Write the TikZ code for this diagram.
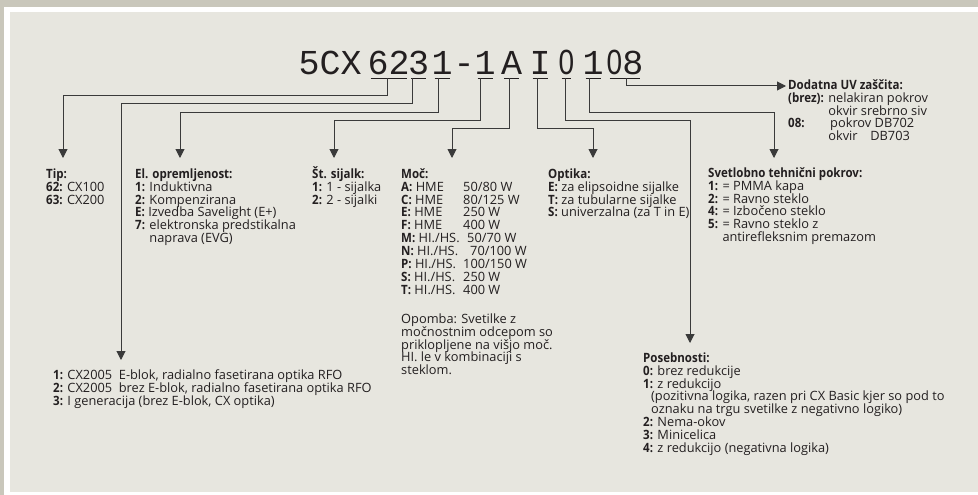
\documentclass[tikz,border=0pt]{standalone}
\usepackage{fontspec}
\setmainfont{Open Sans}[BoldFeatures={FakeStretch=0.9}]
\newfontfamily\codefont{Liberation Mono}
\newfontfamily\zerofont{Liberation Sans}[FakeStretch=0.8]
\usepackage{xcolor}
\usetikzlibrary{arrows.meta,calc}

\definecolor{frameclr}{HTML}{C9C7BB}
\definecolor{panelclr}{HTML}{E7E6DF}
\definecolor{ink}{HTML}{231F20}
\definecolor{wireclr}{HTML}{3A3A3A}
\newcommand{\head}[1]{\rule{0pt}{12pt}\textbf{#1}}
\newcommand{\pline}[3][62pt]{\makebox[#1][l]{\textbf{#2:} #3}}
\newcommand{\zero}{{\zerofont 0}}

\begin{document}
\begin{tikzpicture}[
    x=1pt, y=-1pt,
    >={Triangle[width=9pt,length=9pt]},
    codechar/.style={font=\codefont\fontsize{35}{35}\selectfont, text=ink, inner sep=0pt, anchor=base west, text depth=0pt},
    ucodechar/.style={codechar, append after command={([xshift=3pt,yshift=-3pt]\tikzlastnode.south west) edge[draw=ink, line width=1.2pt, -] ([xshift=-3pt,yshift=-3pt]\tikzlastnode.south east)}},
    infoblk/.style={font=\fontsize{12.8}{12.9}\selectfont, text=ink, align=left, inner sep=0pt, anchor=north west},
    wirestyle/.style={draw=wireclr, line width=1pt, ->}
]
\useasboundingbox (0,0) rectangle (978,495);
\fill[frameclr] (0,0) rectangle (978,495);
\fill[white] (4,7) rectangle (978,495);
\fill[panelclr] (10,12) rectangle (978,492);

% order code
\node[codechar] (c5cx) at (298.5,75) {5CX};
\node[ucodechar] (ctip) at (367.5,75) {62};
\node[ucodechar] (cgen) at (408,75) {3};
\node[ucodechar] (cel) at (431.5,75) {1};
\node[codechar] (cdash) at (453.5,75) {-};
\node[ucodechar] (cnum) at (474.5,75) {1};
\node[ucodechar] (cpow) at (501,75) {A};
\node[ucodechar] (copt) at (529.5,75) {I};
\node[ucodechar] (cspec) at (558.5,75) {\zero};
\node[ucodechar] (ccov) at (582.5,75) {1};
\node[ucodechar] (cuv) at (606.5,75) {\zero 8};

% explanations
\node[infoblk] (tip) at (46,166) {\head{Tip:}\\
  \textbf{62:} CX100\\
  \textbf{63:} CX200};
\node[infoblk] (el) at (135,166) {\head{El. opremljenost:}\\
  \textbf{1:} Induktivna\\
  \textbf{2:} Kompenzirana\\
  \textbf{E:} Izvedba Savelight (E+)\\
  \textbf{7:} elektronska predstikalna\\
  \phantom{\textbf{7:} }naprava (EVG)};
\node[infoblk] (num) at (312,166) {\head{Št. sijalk:}\\
  \textbf{1:} 1 - sijalka\\
  \textbf{2:} 2 - sijalki};
\node[infoblk] (pow) at (401,166) {\head{Moč:}\\
  \pline{A}{HME}50/80 W\\
  \pline{C}{HME}80/125 W\\
  \pline{E}{HME}250 W\\
  \pline{F}{HME}400 W\\
  \pline[66pt]{M}{HI./HS.}50/70 W\\
  \pline[69pt]{N}{HI./HS.}70/100 W\\
  \pline{P}{HI./HS.}100/150 W\\
  \pline{S}{HI./HS.}250 W\\
  \pline{T}{HI./HS.}400 W\\[16pt]
  Opomba: Svetilke z\\
  močnostnim odcepom so\\
  priklopljene na višjo moč.\\
  HI. le v kombinaciji s\\
  steklom.};
\node[infoblk] (opt) at (548,166) {\head{Optika:}\\
  \textbf{E:} za elipsoidne sijalke\\
  \textbf{T:} za tubularne sijalke\\
  \textbf{S:} univerzalna (za T in E)};
\node[infoblk] (uv) at (788,77) {\head{Dodatna UV zaščita:}\\
  \textbf{(brez):} nelakiran pokrov\\
  \phantom{\textbf{(brez):} }okvir srebrno siv\\
  \makebox[42pt][l]{\textbf{08:}}pokrov DB702\\
  \phantom{\textbf{(brez):} }\makebox[42pt][l]{okvir}DB703};
\node[infoblk] (cov) at (708,165) {\head{Svetlobno tehnični pokrov:}\\
  \textbf{1:} = PMMA kapa\\
  \textbf{2:} = Ravno steklo\\
  \textbf{4:} = Izbočeno steklo\\
  \textbf{5:} = Ravno steklo z\\
  \phantom{\textbf{5:} }antirefleksnim premazom};
\node[infoblk] (spec) at (643,350) {\head{Posebnosti:}\\
  \textbf{0:} brez redukcije\\
  \textbf{1:} z redukcijo\\
  \hspace*{8pt}(pozitivna logika, razen pri CX Basic kjer so pod to\\
  \hspace*{8pt}oznaku na trgu svetilke z negativno logiko)\\
  \textbf{2:} Nema-okov\\
  \textbf{3:} Minicelica\\
  \textbf{4:} z redukcijo (negativna logika)};
\node[infoblk] (gen) at (53,367) {\head{1:} CX2005\ \ E-blok, radialno fasetirana optika RFO\\
  \textbf{2:} CX2005\ \ brez E-blok, radialno fasetirana optika RFO\\
  \textbf{3:} I generacija (brez E-blok, CX optika)};

% connectors
\draw[wirestyle] ([xshift=19.5pt,yshift=-3pt]ctip.south west) -- ++(0,17) -| ([xshift=17pt,yshift=8pt]tip.north west);
\draw[wirestyle] ([xshift=4pt,yshift=-3pt]cgen.south west) -- ++(0,25) -| ([xshift=68pt,yshift=7pt]gen.north west);
\draw[wirestyle] ([xshift=6.5pt,yshift=-3pt]cel.south west) -- ++(0,34) -| ([xshift=45pt,yshift=8pt]el.north west);
\draw[wirestyle] ([xshift=5.5pt,yshift=-3pt]cnum.south west) -- ++(0,42) -| ([xshift=22pt,yshift=8pt]num.north west);
\draw[wirestyle] ([xshift=8pt,yshift=-3pt]cpow.south west) -- ++(0,50) -| ([xshift=51pt,yshift=8pt]pow.north west);
\draw[wirestyle] ([xshift=7.5pt,yshift=-3pt]copt.south west) -- ++(0,50) -| ([xshift=45pt,yshift=8pt]opt.north west);
\draw[wirestyle] ([xshift=6.5pt,yshift=-3pt]cspec.south west) -- ++(0,42) -| ([xshift=47pt,yshift=7pt]spec.north west);
\draw[wirestyle] ([xshift=6.5pt,yshift=-3pt]ccov.south west) -- ++(0,34) -| ([xshift=66pt,yshift=7pt]cov.north west);
\draw[wirestyle] ([xshift=19.5pt,yshift=-3pt]cuv.south west) |- ([xshift=-2pt,yshift=-9pt]uv.north west);
\end{tikzpicture}
\end{document}
